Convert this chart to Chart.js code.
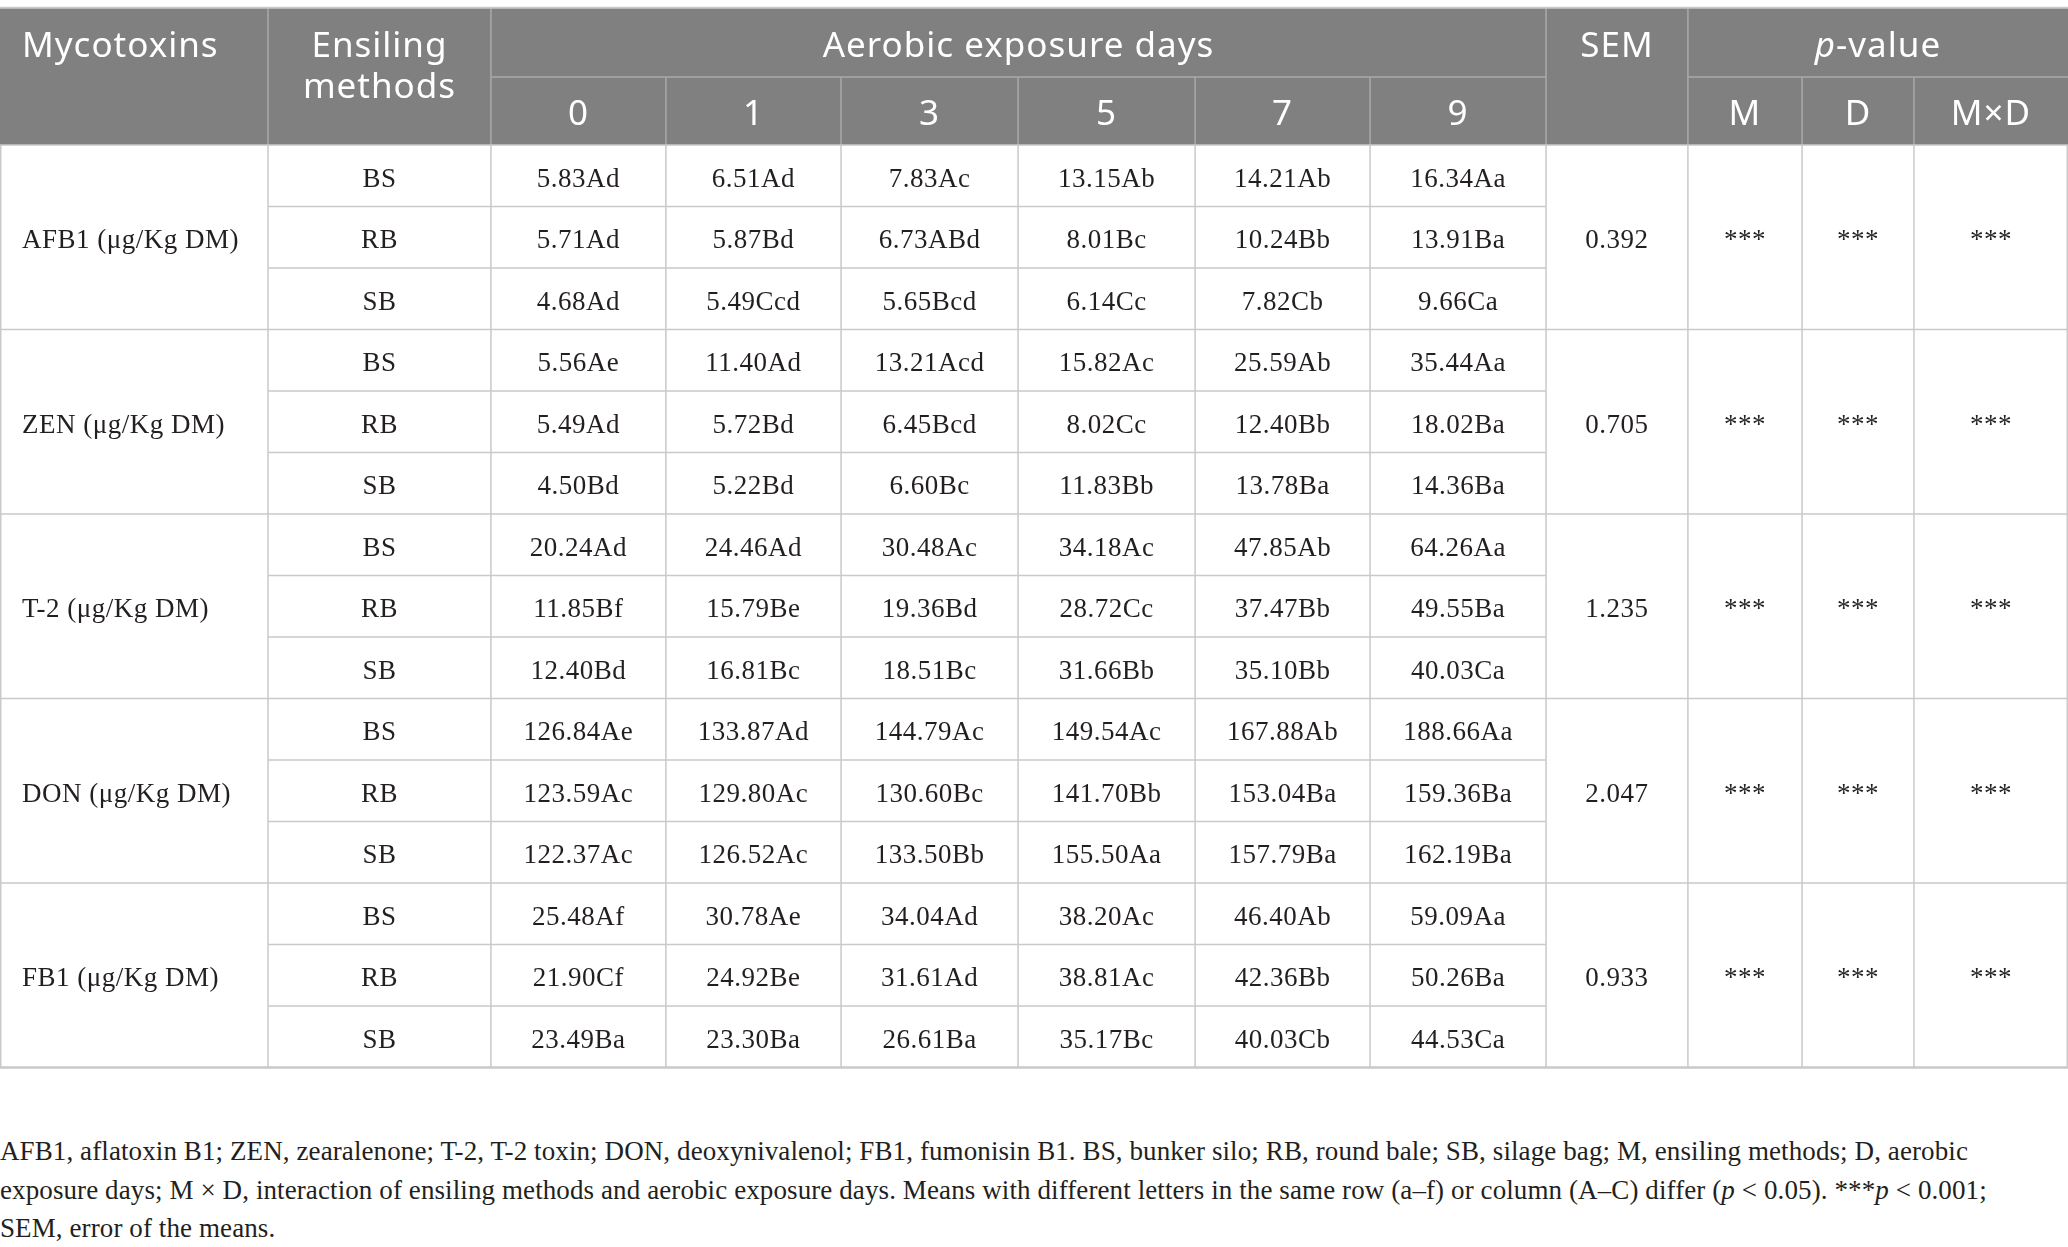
<!DOCTYPE html>
<html>
<head>
<meta charset="utf-8">
<script src="https://cdn.jsdelivr.net/npm/chart.js@4.4.1/dist/chart.umd.min.js"></script>
<style>
  body { margin: 0; background: #fff; width: 2068px; height: 1247px; overflow: hidden; position: relative; }
  #wrap { position: absolute; left: 0; top: 0; width: 2068px; height: 1075px; }
  #note { position: absolute; left: 0; top: 1132px; margin: 0; font: 27px "Liberation Serif", serif;
          letter-spacing: 0.1px; line-height: 38.5px; color: #231f20; white-space: nowrap; }
</style>
</head>
<body>
<div id="wrap"><canvas id="table" width="2068" height="1075"></canvas></div>
<p id="note">AFB1, aflatoxin B1; ZEN, zearalenone; T-2, T-2 toxin; DON, deoxynivalenol; FB1, fumonisin B1. BS, bunker silo; RB, round bale; SB, silage bag; M, ensiling methods; D, aerobic<br>exposure days; M × D, interaction of ensiling methods and aerobic exposure days. Means with different letters in the same row (a–f) or column (A–C) differ (<i>p</i> &lt; 0.05). ***<i>p</i> &lt; 0.001;<br>SEM, error of the means.</p>

<script>
// Table content
const toxins = ['AFB1 (μg/Kg DM)', 'ZEN (μg/Kg DM)', 'T-2 (μg/Kg DM)', 'DON (μg/Kg DM)', 'FB1 (μg/Kg DM)'];
const methods = ['BS', 'RB', 'SB'];
const days = ['0', '1', '3', '5', '7', '9'];

const afb1 = [
    ['5.83Ad', '6.51Ad', '7.83Ac', '13.15Ab', '14.21Ab', '16.34Aa'],
    ['5.71Ad', '5.87Bd', '6.73ABd', '8.01Bc', '10.24Bb', '13.91Ba'],
    ['4.68Ad', '5.49Ccd', '5.65Bcd', '6.14Cc', '7.82Cb', '9.66Ca']
];
const zen = [
    ['5.56Ae', '11.40Ad', '13.21Acd', '15.82Ac', '25.59Ab', '35.44Aa'],
    ['5.49Ad', '5.72Bd', '6.45Bcd', '8.02Cc', '12.40Bb', '18.02Ba'],
    ['4.50Bd', '5.22Bd', '6.60Bc', '11.83Bb', '13.78Ba', '14.36Ba']
];
const t2 = [
    ['20.24Ad', '24.46Ad', '30.48Ac', '34.18Ac', '47.85Ab', '64.26Aa'],
    ['11.85Bf', '15.79Be', '19.36Bd', '28.72Cc', '37.47Bb', '49.55Ba'],
    ['12.40Bd', '16.81Bc', '18.51Bc', '31.66Bb', '35.10Bb', '40.03Ca']
];
const don = [
    ['126.84Ae', '133.87Ad', '144.79Ac', '149.54Ac', '167.88Ab', '188.66Aa'],
    ['123.59Ac', '129.80Ac', '130.60Bc', '141.70Bb', '153.04Ba', '159.36Ba'],
    ['122.37Ac', '126.52Ac', '133.50Bb', '155.50Aa', '157.79Ba', '162.19Ba']
];
const fb1 = [
    ['25.48Af', '30.78Ae', '34.04Ad', '38.20Ac', '46.40Ab', '59.09Aa'],
    ['21.90Cf', '24.92Be', '31.61Ad', '38.81Ac', '42.36Bb', '50.26Ba'],
    ['23.49Ba', '23.30Ba', '26.61Ba', '35.17Bc', '40.03Cb', '44.53Ca']
];
const sem = ['0.392', '0.705', '1.235', '2.047', '0.933'];
const pM = ['***', '***', '***', '***', '***'];
const pD = ['***', '***', '***', '***', '***'];
const pMD = ['***', '***', '***', '***', '***'];

// Layout: column edges in % of table width, rows in body-row units (0 = header bottom)
const colEdges = [0, 12.96, 23.74, 32.2, 40.67, 49.23, 57.79, 66.25, 74.76, 81.62, 87.14, 92.55, 100];
const headTop = -2.23;
const headMid = -1.105;
// text baselines (row units)
const headUpperBase = -1.431;
const headLowerBase = -0.325;
const headLine2Base = -0.764;
const bodyBase = 0.178; // below the row centre

const headerBg = '#7f807f';
const headerLine = '#a9aaa9';
const bodyLine = '#c9c9c9';
const ink = '#231f20';
const headFont = '35px "Noto Sans", sans-serif';
const bodyFont = '27px "Liberation Serif", serif';

const blocks = [afb1, zen, t2, don, fb1];

function colMid(i) {
    return (colEdges[i] + colEdges[i + 1]) / 2;
}

// one point per value cell, placed at the cell centre
const valuePoints = [];
blocks.forEach((block, t) => {
    block.forEach((row, m) => {
        row.forEach((v, d) => {
            valuePoints.push({ x: colMid(2 + d), y: t * 3 + m + 0.5, text: v });
        });
    });
});

const tablePlugin = {
    id: 'tableGrid',
    beforeDatasetsDraw(chart) {
        const ctx = chart.ctx;
        const xs = chart.scales.x, ys = chart.scales.y;
        const X = v => xs.getPixelForValue(v);
        const Y = v => ys.getPixelForValue(v);
        const rows = toxins.length * 3;

        ctx.save();
        // header background
        ctx.fillStyle = headerBg;
        ctx.fillRect(X(0), Y(headTop), X(100) - X(0), Y(0) - Y(headTop));

        function line(x1, y1, x2, y2) {
            ctx.beginPath();
            ctx.moveTo(x1, y1);
            ctx.lineTo(x2, y2);
            ctx.stroke();
        }

        // header lines
        ctx.strokeStyle = headerLine;
        ctx.lineWidth = 1.5;
        line(X(colEdges[2]), Y(headMid), X(colEdges[8]), Y(headMid));
        line(X(colEdges[9]), Y(headMid), X(colEdges[12]), Y(headMid));
        [1, 2, 8, 9].forEach(i => line(X(colEdges[i]), Y(headTop), X(colEdges[i]), Y(0)));
        [3, 4, 5, 6, 7, 10, 11].forEach(i => line(X(colEdges[i]), Y(headMid), X(colEdges[i]), Y(0)));

        // body lines
        ctx.strokeStyle = bodyLine;
        for (let i = 1; i < colEdges.length - 1; i++) {
            line(X(colEdges[i]), Y(0), X(colEdges[i]), Y(rows));
        }
        line(X(0) + 0.75, Y(0), X(0) + 0.75, Y(rows));
        line(X(100) - 0.75, Y(0), X(100) - 0.75, Y(rows));
        for (let t = 0; t < toxins.length; t++) {
            line(X(0), Y(t * 3), X(100), Y(t * 3));
            line(X(colEdges[1]), Y(t * 3 + 1), X(colEdges[8]), Y(t * 3 + 1));
            line(X(colEdges[1]), Y(t * 3 + 2), X(colEdges[8]), Y(t * 3 + 2));
        }
        // outer top & bottom rules
        ctx.lineWidth = 2.5;
        line(X(0), Y(rows), X(100), Y(rows));
        ctx.lineWidth = 2;
        line(X(0), Y(headTop), X(100), Y(headTop));
        ctx.restore();
    },
    afterDatasetsDraw(chart) {
        const ctx = chart.ctx;
        const xs = chart.scales.x, ys = chart.scales.y;
        const X = v => xs.getPixelForValue(v);
        const Y = v => ys.getPixelForValue(v);

        ctx.save();
        ctx.textBaseline = 'alphabetic';

        // header text
        ctx.fillStyle = '#ffffff';
        ctx.font = headFont;
        ctx.letterSpacing = '1px';
        ctx.textAlign = 'left';
        ctx.fillText('Mycotoxins', X(0) + 22, Y(headUpperBase));
        ctx.textAlign = 'center';
        ctx.fillText('Ensiling', X(colMid(1)), Y(headUpperBase));
        ctx.fillText('methods', X(colMid(1)), Y(headLine2Base));
        ctx.fillText('Aerobic exposure days', X((colEdges[2] + colEdges[8]) / 2), Y(headUpperBase));
        days.forEach((d, i) => ctx.fillText(d, X(colMid(2 + i)), Y(headLowerBase)));
        ctx.fillText('SEM', X(colMid(8)), Y(headUpperBase));
        ['M', 'D', 'M×D'].forEach((s, i) => ctx.fillText(s, X(colMid(9 + i)), Y(headLowerBase)));

        // "p-value" with italic p
        const pItalic = 'italic ' + headFont;
        ctx.font = pItalic;
        const wp = ctx.measureText('p').width;
        ctx.font = headFont;
        const wr = ctx.measureText('-value').width;
        const cx = X((colEdges[9] + colEdges[12]) / 2);
        ctx.textAlign = 'left';
        ctx.font = pItalic;
        ctx.fillText('p', cx - (wp + wr) / 2, Y(headUpperBase));
        ctx.font = headFont;
        ctx.fillText('-value', cx - (wp + wr) / 2 + wp, Y(headUpperBase));

        // body text
        ctx.fillStyle = ink;
        ctx.font = bodyFont;
        ctx.letterSpacing = '0.5px';
        toxins.forEach((name, t) => {
            const mid = t * 3 + 1.5 + bodyBase;
            ctx.textAlign = 'left';
            ctx.fillText(name, X(0) + 22, Y(mid));
            ctx.textAlign = 'center';
            methods.forEach((m, k) => ctx.fillText(m, X(colMid(1)), Y(t * 3 + k + 0.5 + bodyBase)));
            ctx.fillText(sem[t], X(colMid(8)), Y(mid));
            ctx.fillText(pM[t], X(colMid(9)), Y(mid));
            ctx.fillText(pD[t], X(colMid(10)), Y(mid));
            ctx.fillText(pMD[t], X(colMid(11)), Y(mid));
        });

        // values at the dataset points
        const meta = chart.getDatasetMeta(0);
        const shift = Y(bodyBase) - Y(0);
        ctx.textAlign = 'center';
        meta.data.forEach((pt, i) => {
            ctx.fillText(valuePoints[i].text, pt.x, pt.y + shift);
        });
        ctx.restore();
    }
};

new Chart(document.getElementById('table'), {
    type: 'scatter',
    data: {
        datasets: [{
            label: 'values',
            data: valuePoints,
            pointRadius: 0,
            pointHoverRadius: 0
        }]
    },
    options: {
        responsive: false,
        animation: false,
        layout: { padding: 0 },
        plugins: {
            legend: { display: false },
            tooltip: { enabled: false }
        },
        scales: {
            x: { type: 'linear', min: 0, max: 100, display: false },
            y: { type: 'linear', min: -2.358, max: 15.122, reverse: true, display: false }
        }
    },
    plugins: [tablePlugin]
});
</script>
</body>
</html>
